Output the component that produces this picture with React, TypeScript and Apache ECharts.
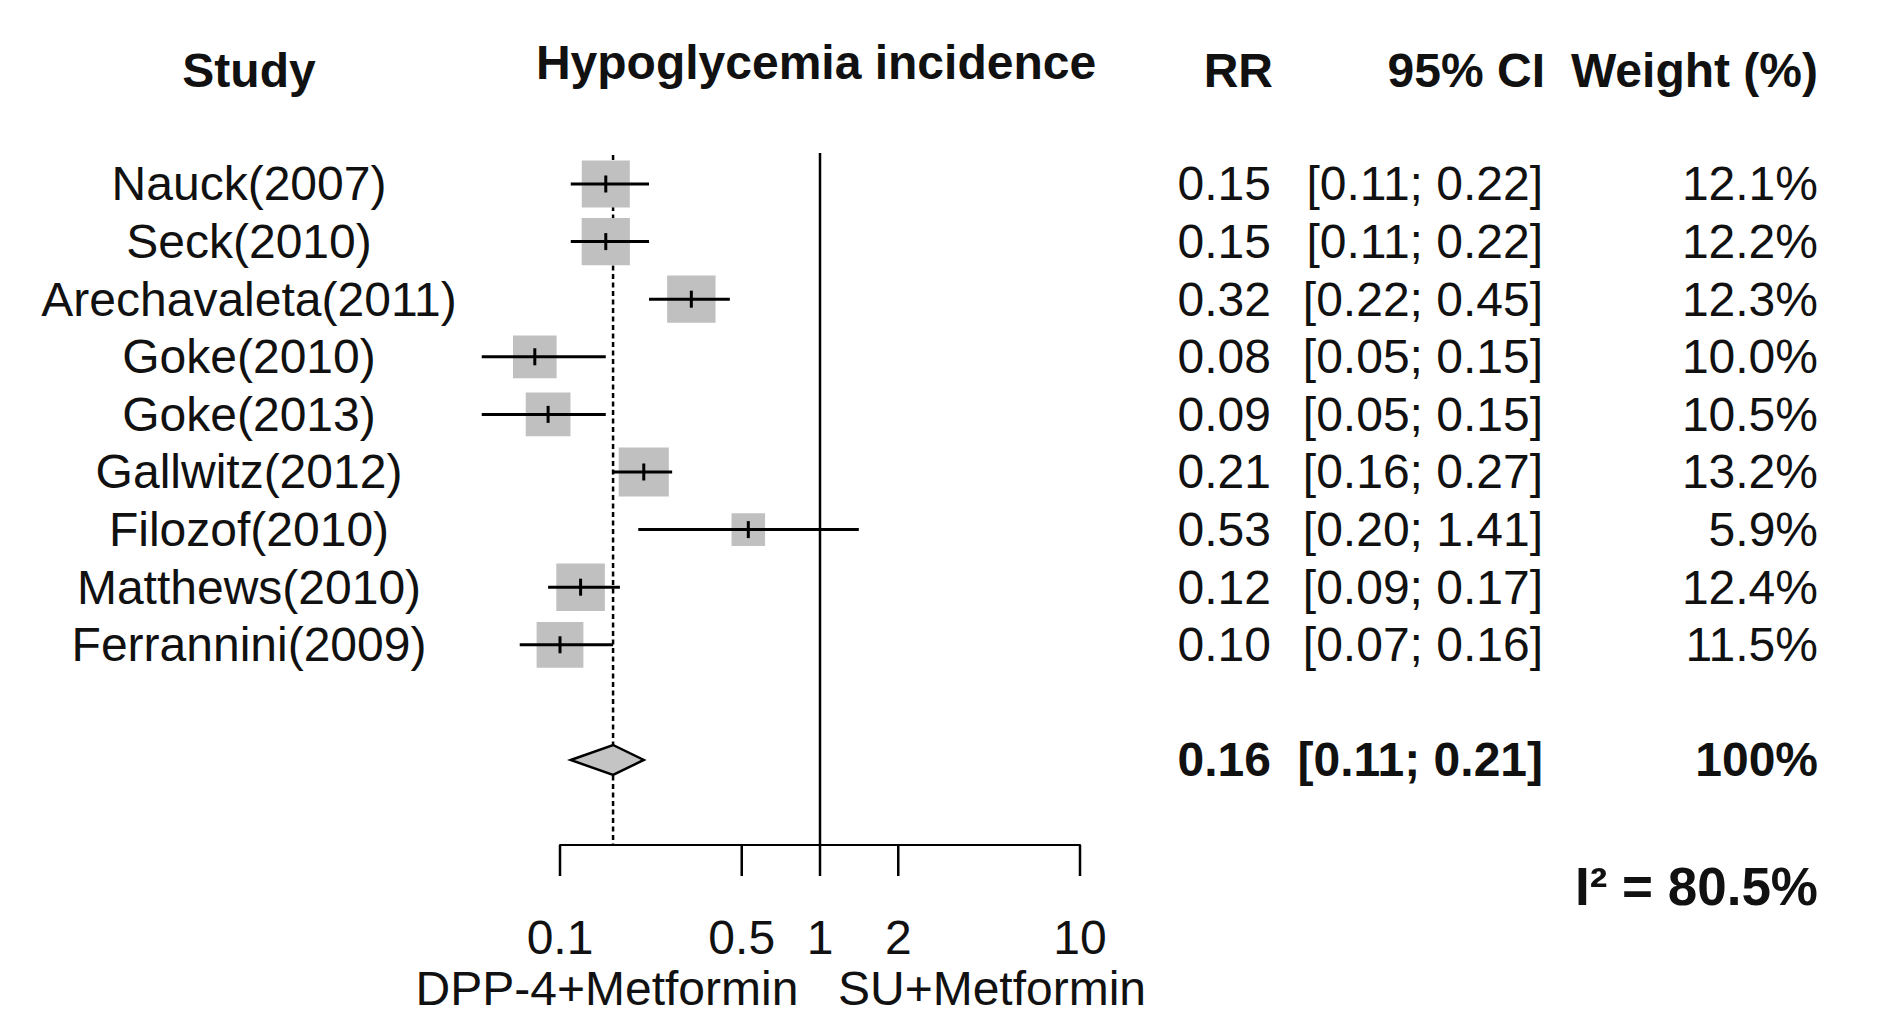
import React, { useEffect, useRef } from 'react';
import * as echarts from 'echarts';

// ---- data ----
const studies = [
  'Nauck(2007)',
  'Seck(2010)',
  'Arechavaleta(2011)',
  'Goke(2010)',
  'Goke(2013)',
  'Gallwitz(2012)',
  'Filozof(2010)',
  'Matthews(2010)',
  'Ferrannini(2009)',
];
const rr = [0.15, 0.15, 0.32, 0.08, 0.09, 0.21, 0.53, 0.12, 0.10];
const ciLower = [0.11, 0.11, 0.22, 0.05, 0.05, 0.16, 0.20, 0.09, 0.07];
const ciUpper = [0.22, 0.22, 0.45, 0.15, 0.15, 0.27, 1.41, 0.17, 0.16];
const weights = [12.1, 12.2, 12.3, 10.0, 10.5, 13.2, 5.9, 12.4, 11.5];

const pooledRR = 0.16;
const pooledLower = 0.11;
const pooledUpper = 0.21;
const pooledWeight = 100;
const i2 = 80.5;

const tickValues = [0.1, 0.5, 1, 2, 10];
const tickLabels = ['0.1', '0.5', '1', '2', '10'];

const headers = ['Study', 'Hypoglycemia incidence', 'RR', '95% CI', 'Weight (%)'];
const leftLabel = 'DPP-4+Metformin';
const rightLabel = 'SU+Metformin';

const FONT = '"Liberation Sans", Arial, Helvetica, sans-serif';
const FS = 48;
const TXT = '#111';

function txt(x: number, y: number, text: string, align: string, bold = false, size = FS) {
  return {
    type: 'text',
    x,
    y,
    style: {
      text,
      fill: TXT,
      fontFamily: FONT,
      fontSize: size,
      fontWeight: bold ? 'bold' : 'normal',
      align,
      textAlign: align,
      verticalAlign: 'middle',
      textVerticalAlign: 'middle',
    },
  };
}

export default function App() {
  const ref = useRef<HTMLDivElement>(null);

  useEffect(() => {
    if (!ref.current) return;
    const chart = echarts.init(ref.current, null, { renderer: 'svg' });

    const gridLeft = 560;
    const gridRight = 1080;
    const gridTop = 153;
    const gridBottom = 845;

    const rowData = studies.map((_, i) => [rr[i], i, ciLower[i], ciUpper[i], weights[i]]);
    const summaryRow = 10;

    const option: any = {
      animation: false,
      backgroundColor: '#ffffff',
      grid: {
        left: gridLeft,
        right: 1885 - gridRight,
        top: gridTop,
        bottom: 1015 - gridBottom,
        containLabel: false,
      },
      xAxis: {
        type: 'log',
        logBase: 10,
        min: 0.1,
        max: 10,
        axisLine: { show: true, onZero: false, lineStyle: { color: '#000', width: 2 } },
        axisTick: { show: false },
        axisLabel: { show: false },
        splitLine: { show: false },
      },
      yAxis: {
        type: 'value',
        inverse: true,
        min: -0.538,
        max: 11.476,
        show: false,
        splitLine: { show: false },
      },
      graphic: [
        txt(249, 70, headers[0], 'center', true),
        txt(816, 62, headers[1], 'center', true),
        txt(1273, 70, headers[2], 'right', true),
        txt(1545, 70, headers[3], 'right', true),
        txt(1818, 70, headers[4], 'right', true),
        txt(607, 988, leftLabel, 'center'),
        txt(992, 988, rightLabel, 'center'),
        txt(1818, 886, 'I\u00B2 = ' + i2.toFixed(1) + '%', 'right', true, 53),
      ],
      series: [
        // reference line at RR = 1 (solid)
        {
          type: 'custom',
          clip: false,
          z: 1,
          data: [[1, 0]],
          renderItem: (params: any, api: any) => {
            const x = api.coord([api.value(0), 0])[0];
            const cs = params.coordSys;
            return {
              type: 'line',
              shape: { x1: x, y1: cs.y, x2: x, y2: cs.y + cs.height },
              style: { stroke: '#000', lineWidth: 2.5 },
            };
          },
        },
        // pooled estimate line (dashed)
        {
          type: 'custom',
          clip: false,
          z: 1,
          data: [[pooledRR, 0]],
          renderItem: (params: any, api: any) => {
            const x = api.coord([api.value(0), 0])[0];
            const cs = params.coordSys;
            return {
              type: 'line',
              shape: { x1: x, y1: cs.y + 2, x2: x, y2: cs.y + cs.height },
              style: { stroke: '#000', lineWidth: 2.5, lineDash: [5, 3.5] },
            };
          },
        },
        // studies
        {
          type: 'custom',
          clip: false,
          z: 3,
          data: rowData,
          encode: { x: 0, y: 1 },
          renderItem: (params: any, api: any) => {
            const i = params.dataIndex;
            const row = api.value(1);
            const [cx, cy] = api.coord([api.value(0), row]);
            const xl = api.coord([api.value(2), row])[0];
            const xh = api.coord([api.value(3), row])[0];
            const s = Math.sqrt(api.value(4));
            const bw = 13.8 * s;
            const bh = 13.5 * s;
            const ci = '[' + ciLower[i].toFixed(2) + '; ' + ciUpper[i].toFixed(2) + ']';
            return {
              type: 'group',
              children: [
                {
                  type: 'rect',
                  shape: { x: cx - bw / 2, y: cy - bh / 2, width: bw, height: bh },
                  style: { fill: '#c0c0c0' },
                },
                {
                  type: 'line',
                  shape: { x1: xl, y1: cy, x2: xh, y2: cy },
                  style: { stroke: '#000', lineWidth: 3 },
                },
                {
                  type: 'line',
                  shape: { x1: cx, y1: cy - 8.5, x2: cx, y2: cy + 8.5 },
                  style: { stroke: '#000', lineWidth: 3 },
                },
                txt(249, cy, studies[i], 'center'),
                txt(1271, cy, rr[i].toFixed(2), 'right'),
                txt(1543, cy, ci, 'right'),
                txt(1818, cy, weights[i].toFixed(1) + '%', 'right'),
              ],
            };
          },
        },
        // pooled summary diamond
        {
          type: 'custom',
          clip: false,
          z: 3,
          data: [[pooledRR, summaryRow, pooledLower, pooledUpper, pooledWeight]],
          encode: { x: 0, y: 1 },
          renderItem: (params: any, api: any) => {
            const row = api.value(1);
            const [cx, cy] = api.coord([api.value(0), row]);
            const xl = api.coord([api.value(2), row])[0];
            const xh = api.coord([api.value(3), row])[0];
            const hh = 15;
            const ci = '[' + pooledLower.toFixed(2) + '; ' + pooledUpper.toFixed(2) + ']';
            return {
              type: 'group',
              children: [
                {
                  type: 'polygon',
                  shape: { points: [[xl, cy], [cx, cy - hh], [xh, cy], [cx, cy + hh]] },
                  style: { fill: '#c4c4c4', stroke: '#000', lineWidth: 2.5 },
                },
                txt(1271, cy, pooledRR.toFixed(2), 'right', true),
                txt(1543, cy, ci, 'right', true),
                txt(1818, cy, api.value(4) + '%', 'right', true),
              ],
            };
          },
        },
        // x axis ticks and labels
        {
          type: 'custom',
          clip: false,
          z: 3,
          data: tickValues.map((v) => [v, 0]),
          encode: { x: 0, y: 1 },
          renderItem: (params: any, api: any) => {
            const i = params.dataIndex;
            const x = api.coord([api.value(0), 0])[0];
            const cs = params.coordSys;
            const yb = cs.y + cs.height;
            return {
              type: 'group',
              children: [
                {
                  type: 'line',
                  shape: { x1: x, y1: yb, x2: x, y2: yb + 31 },
                  style: { stroke: '#000', lineWidth: 2.5 },
                },
                txt(x, yb + 92, tickLabels[i], 'center'),
              ],
            };
          },
        },
      ],
    };

    chart.setOption(option);
    return () => chart.dispose();
  }, []);

  return (
    <div
      ref={ref}
      style={{ position: 'absolute', left: 0, top: 0, width: 1885, height: 1015, background: '#fff' }}
    />
  );
}
